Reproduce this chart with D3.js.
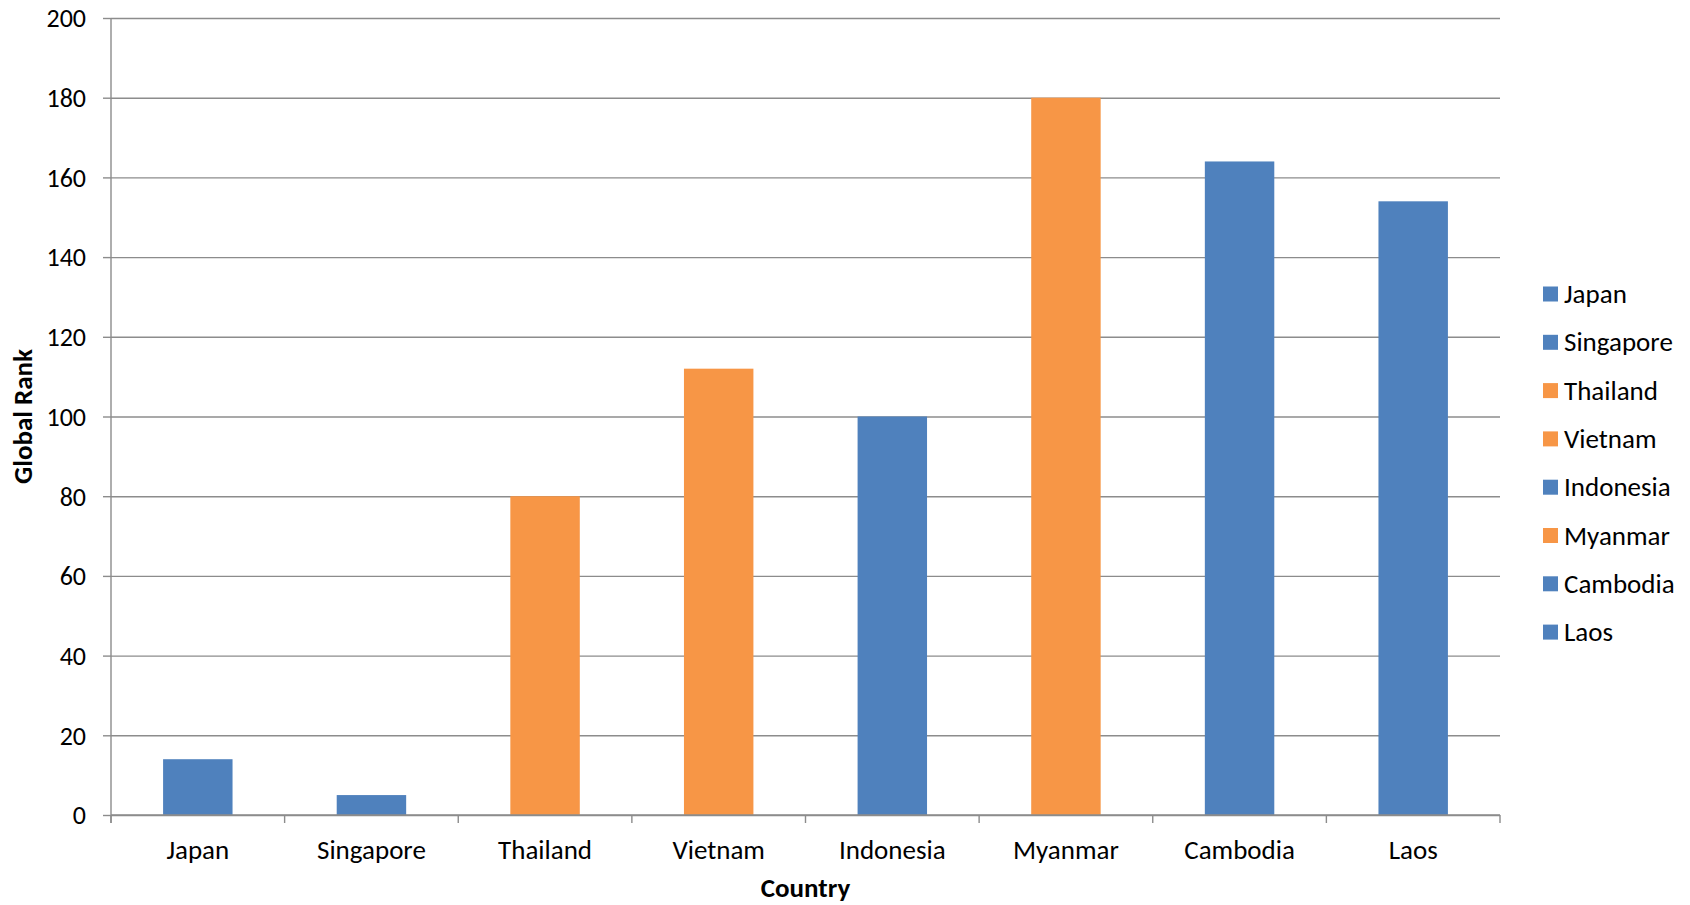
<!DOCTYPE html>
<html>
<head>
<meta charset="utf-8">
<script src="https://cdn.jsdelivr.net/npm/d3@7"></script>
<style>
  html, body { margin: 0; padding: 0; background: #fff; }
  svg { display: block; }
  text { font-family: Carlito, "Open Sans", "Liberation Sans", sans-serif; fill: #000; }
</style>
</head>
<body>
<svg id="chart" width="1690" height="905"></svg>
<script>
// Countries, their global rank, and the colour group of each bar
const countries = ["Japan", "Singapore", "Thailand", "Vietnam", "Indonesia", "Myanmar", "Cambodia", "Laos"];
const ranks = [14, 5, 80, 112, 100, 180, 164, 154];
const groups = ["blue", "blue", "orange", "orange", "blue", "orange", "blue", "blue"];
const yTicks = [0, 20, 40, 60, 80, 100, 120, 140, 160, 180, 200];

const palette = { blue: "#4F81BD", orange: "#F79646" };
const gridColor = "#8c8c8c";

const svg = d3.select("#chart");
const plot = { left: 111, right: 1500, top: 18, bottom: 815 };

const x = d3.scaleBand().domain(countries).range([plot.left, plot.right]).paddingInner(0.6).paddingOuter(0.3);
const y = d3.scaleLinear().domain([0, 200]).range([plot.bottom, plot.top]);

// Horizontal gridlines with left tick marks
const yAxis = svg.append("g")
  .attr("transform", `translate(${plot.left},0)`)
  .call(d3.axisLeft(y).tickValues(yTicks).tickSize(8).tickPadding(17).tickFormat(d3.format("d")));
yAxis.select(".domain").remove();
yAxis.selectAll(".tick line").attr("stroke", gridColor).attr("stroke-width", 1.4);
yAxis.selectAll(".tick").append("line")
  .attr("x1", 0).attr("x2", plot.right - plot.left)
  .attr("stroke", gridColor).attr("stroke-width", 1.4);
yAxis.selectAll(".tick text").style("font-size", "26px").attr("dy", "0.34em");

// Bars
svg.append("g").selectAll("rect")
  .data(countries)
  .join("rect")
  .attr("x", d => x(d))
  .attr("width", x.bandwidth())
  .attr("y", (d, i) => y(ranks[i]))
  .attr("height", (d, i) => y(0) - y(ranks[i]))
  .attr("fill", (d, i) => palette[groups[i]]);

// Vertical axis line
svg.append("line")
  .attr("x1", plot.left).attr("x2", plot.left)
  .attr("y1", plot.top).attr("y2", plot.bottom + 8)
  .attr("stroke", gridColor).attr("stroke-width", 1.4);

// Category axis: baseline, boundary ticks and labels
svg.append("line")
  .attr("x1", plot.left).attr("x2", plot.right)
  .attr("y1", plot.bottom).attr("y2", plot.bottom)
  .attr("stroke", gridColor).attr("stroke-width", 1.4);
const boundaries = d3.range(countries.length + 1).map(i => plot.left + i * (plot.right - plot.left) / countries.length);
svg.append("g").selectAll("line")
  .data(boundaries)
  .join("line")
  .attr("x1", d => d).attr("x2", d => d)
  .attr("y1", plot.bottom).attr("y2", plot.bottom + 8)
  .attr("stroke", gridColor).attr("stroke-width", 1.4);
svg.append("g").selectAll("text")
  .data(countries)
  .join("text")
  .attr("x", d => x(d) + x.bandwidth() / 2)
  .attr("y", 850)
  .attr("dy", "0.34em")
  .attr("text-anchor", "middle")
  .style("font-size", "27px")
  .text(d => d);

// Axis titles
svg.append("text")
  .attr("x", (plot.left + plot.right) / 2)
  .attr("y", 897)
  .attr("text-anchor", "middle")
  .style("font-size", "27px")
  .style("font-weight", "bold")
  .text("Country");
svg.append("text")
  .attr("transform", `translate(23,${(plot.top + plot.bottom) / 2}) rotate(-90)`)
  .attr("dy", "0.34em")
  .attr("text-anchor", "middle")
  .style("font-size", "27px")
  .style("font-weight", "bold")
  .text("Global Rank");

// Legend
const legend = svg.append("g").selectAll("g")
  .data(countries)
  .join("g")
  .attr("transform", (d, i) => `translate(1543,${294 + i * 48.3})`);
legend.append("rect")
  .attr("x", 0).attr("y", -7.5)
  .attr("width", 15).attr("height", 15)
  .attr("fill", (d, i) => palette[groups[i]]);
legend.append("text")
  .attr("x", 21).attr("y", 0)
  .attr("dy", "0.34em")
  .style("font-size", "27px")
  .text(d => d);
</script>
</body>
</html>
